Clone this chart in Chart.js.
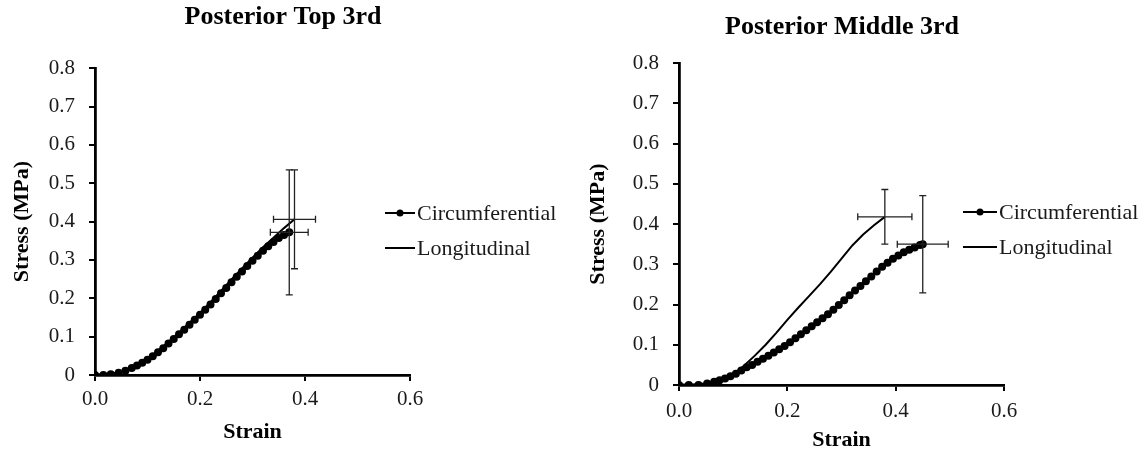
<!DOCTYPE html>
<html>
<head>
<meta charset="utf-8">
<script src="https://cdn.jsdelivr.net/npm/chart.js@4.4.1/dist/chart.umd.min.js"></script>
<style>
  body { margin: 0; background: #fff; width: 1147px; height: 454px; position: relative; overflow: hidden;
         font-family: "Liberation Serif", "Times New Roman", serif; }
  canvas.panel { position: absolute; top: 0; }
  .legend { position: absolute; font-size: 22px; color: #1a1a1a; }
  .legend .item { position: absolute; left: 0; height: 26px; display: flex; align-items: center; white-space: nowrap; }
  .legend .swatch { position: relative; height: 2.5px; background: #000; margin-right: 2px; }
  .legend .dot { position: absolute; left: 50%; top: 50%; width: 7px; height: 7px; border-radius: 50%;
                 background: #000; transform: translate(-50%, -50%); }
</style>
</head>
<body>
<canvas id="topChart" class="panel" style="left:0px" width="566" height="454"></canvas>
<canvas id="middleChart" class="panel" style="left:575px" width="534" height="454"></canvas>
<div id="topLegend" class="legend" style="left:385px; top:200px"></div>
<div id="middleLegend" class="legend" style="left:963px; top:199px"></div>
<script>
// Posterior Top 3rd
const topCircStrain = [0, 0.016, 0.03, 0.045, 0.058, 0.07, 0.08, 0.09, 0.10, 0.11, 0.12, 0.13, 0.14, 0.15, 0.16, 0.17, 0.18, 0.19, 0.20,
  0.21, 0.22, 0.23, 0.24, 0.25, 0.26, 0.27, 0.28, 0.29, 0.30, 0.31, 0.32, 0.33, 0.34, 0.35, 0.36, 0.37];
const topCircStress = [0, 0, 0.002, 0.006, 0.011, 0.018, 0.025, 0.032, 0.040, 0.049, 0.059, 0.070, 0.082, 0.094, 0.106, 0.118, 0.131, 0.144, 0.157,
  0.170, 0.184, 0.198, 0.213, 0.227, 0.242, 0.256, 0.270, 0.284, 0.298, 0.311, 0.324, 0.336, 0.347, 0.357, 0.365, 0.372];
const topLongStrain = [0, 0.02, 0.04, 0.06, 0.08, 0.10, 0.12, 0.14, 0.16, 0.18, 0.20, 0.22, 0.24, 0.26, 0.28, 0.30, 0.32, 0.34, 0.36, 0.38];
const topLongStress = [0, 0.001, 0.004, 0.013, 0.027, 0.043, 0.063, 0.086, 0.110, 0.136, 0.162, 0.190, 0.219, 0.249, 0.278, 0.306, 0.333, 0.358, 0.383, 0.406];
const topStrainErr = [0.036, 0.040];
const topStressErr = [0.163, 0.129];

// Posterior Middle 3rd
const midCircStrain = [0, 0.018, 0.036, 0.052, 0.065, 0.075, 0.085, 0.095, 0.105, 0.115, 0.125, 0.135, 0.145, 0.155, 0.165, 0.175, 0.185, 0.195,
  0.205, 0.215, 0.225, 0.235, 0.245, 0.255, 0.265, 0.275, 0.285, 0.295, 0.305, 0.315, 0.325, 0.335, 0.345, 0.355, 0.365, 0.375,
  0.385, 0.395, 0.405, 0.415, 0.425, 0.435, 0.445, 0.45];
const midCircStress = [0, 0, 0, 0.004, 0.008, 0.012, 0.016, 0.022, 0.028, 0.036, 0.044, 0.050, 0.058, 0.065, 0.073, 0.081, 0.089, 0.097,
  0.106, 0.116, 0.126, 0.136, 0.146, 0.156, 0.166, 0.176, 0.187, 0.199, 0.211, 0.223, 0.235, 0.246, 0.258, 0.270, 0.282, 0.294,
  0.304, 0.314, 0.322, 0.330, 0.336, 0.342, 0.348, 0.350];
const midLongStrain = [0, 0.02, 0.04, 0.06, 0.08, 0.10, 0.12, 0.14, 0.16, 0.18, 0.20, 0.22, 0.24, 0.26, 0.28, 0.30, 0.32, 0.34, 0.36, 0.38];
const midLongStress = [0, 0, 0.002, 0.006, 0.013, 0.027, 0.048, 0.073, 0.100, 0.130, 0.162, 0.192, 0.221, 0.250, 0.281, 0.314, 0.347, 0.374, 0.397, 0.418];
const midStrainErr = [0.047, 0.050];
const midStressErr = [0.121, 0.068];

const seriesNames = ["Circumferential", "Longitudinal"];
const xTicks = [0, 0.2, 0.4, 0.6];
const yMax = 0.8;

const serif = '"Liberation Serif", "Times New Roman", serif';
const textColor = "#1a1a1a";

const toPoints = (xs, ys) => xs.map((x, i) => ({ x: x, y: ys[i] }));

// error bars at the last point of every series
const errorBars = {
  id: "errorBars",
  afterDatasetsDraw(chart, args, opts) {
    const { ctx, scales: { x, y } } = chart;
    const cap = 3.5;
    ctx.save();
    ctx.strokeStyle = "#222";
    ctx.lineWidth = 1.3;
    chart.data.datasets.forEach((ds, i) => {
      const end = ds.data[ds.data.length - 1];
      const px = x.getPixelForValue(end.x), py = y.getPixelForValue(end.y);
      const x0 = x.getPixelForValue(end.x - opts.xErr[i]), x1 = x.getPixelForValue(end.x + opts.xErr[i]);
      const y0 = y.getPixelForValue(end.y - opts.yErr[i]), y1 = y.getPixelForValue(end.y + opts.yErr[i]);
      ctx.beginPath();
      ctx.moveTo(x0, py); ctx.lineTo(x1, py);
      ctx.moveTo(x0, py - cap); ctx.lineTo(x0, py + cap);
      ctx.moveTo(x1, py - cap); ctx.lineTo(x1, py + cap);
      ctx.moveTo(px, y0); ctx.lineTo(px, y1);
      ctx.moveTo(px - cap, y0); ctx.lineTo(px + cap, y0);
      ctx.moveTo(px - cap, y1); ctx.lineTo(px + cap, y1);
      ctx.stroke();
    });
    ctx.restore();
  }
};

function axisStyle() {
  return {
    grid: { display: true, drawOnChartArea: false, drawTicks: true, tickLength: 6, color: "#000", lineWidth: 2 },
    border: { display: true, color: "#000", width: 2.8 }
  };
}

function makeChart(id, cfg) {
  return new Chart(document.getElementById(id), {
    type: "scatter",
    data: {
      datasets: [
        { label: seriesNames[0], data: toPoints(cfg.circ[0], cfg.circ[1]), showLine: true, borderColor: "#000", borderWidth: 3,
          pointRadius: 4, pointBackgroundColor: "#000", pointBorderWidth: 0, pointHoverRadius: 4 },
        { label: seriesNames[1], data: toPoints(cfg.long[0], cfg.long[1]), showLine: true, borderColor: "#000", borderWidth: 2,
          pointRadius: 0, pointHoverRadius: 0 }
      ]
    },
    options: {
      responsive: false,
      animation: false,
      layout: { padding: 0 },
      plugins: {
        legend: { display: false },
        tooltip: { enabled: false },
        title: { display: true, text: cfg.title, color: "#000", font: { family: serif, size: 26, weight: "bold" },
                 padding: cfg.titlePad },
        errorBars: { xErr: cfg.xErr, yErr: cfg.yErr }
      },
      scales: {
        x: Object.assign(axisStyle(), {
          type: "linear", min: 0, max: 0.6,
          afterBuildTicks: s => { s.ticks = xTicks.map(v => ({ value: v })); },
          ticks: { autoSkip: false, maxRotation: 0, color: textColor, padding: cfg.xTickPad, font: { family: serif, size: 21 },
                   callback: v => Number(v).toFixed(1) },
          title: { display: true, text: "Strain", color: "#000", font: { family: serif, size: 22, weight: "bold" },
                   padding: { top: 0, bottom: cfg.xTitlePad } },
          afterFit: s => { s.height = cfg.xHeight; }
        }),
        y: Object.assign(axisStyle(), {
          type: "linear", min: 0, max: yMax,
          ticks: { stepSize: 0.1, autoSkip: false, color: textColor, padding: 14, font: { family: serif, size: 21 },
                   callback: v => (Math.abs(v) < 1e-9 ? "0" : Number(v).toFixed(1)) },
          title: { display: true, text: "Stress (MPa)", color: "#000", font: { family: serif, size: 22, weight: "bold" },
                   padding: { top: cfg.yTitlePad, bottom: 0 } },
          afterFit: s => { s.width = cfg.yWidth; }
        }),
        // empty room on the right, the legend sits there
        gap: { type: "linear", position: "right", display: true, grid: { display: false }, border: { display: false },
               ticks: { display: false }, afterFit: s => { s.width = cfg.gapWidth; } }
      }
    },
    plugins: [errorBars]
  });
}

function buildLegend(chart, el) {
  chart.data.datasets.forEach((ds, i) => {
    const item = document.createElement("div");
    item.className = "item";
    item.style.top = (i * 35) + "px";
    const sw = document.createElement("span");
    sw.className = "swatch";
    sw.style.width = el.dataset.swatch + "px";
    if (ds.pointRadius > 0) {
      const dot = document.createElement("span");
      dot.className = "dot";
      sw.appendChild(dot);
    }
    item.appendChild(sw);
    item.appendChild(document.createTextNode(ds.label));
    el.appendChild(item);
  });
}

const topChart = makeChart("topChart", {
  title: "Posterior Top 3rd",
  circ: [topCircStrain, topCircStress], long: [topLongStrain, topLongStress],
  xErr: topStrainErr, yErr: topStressErr,
  titlePad: { top: 2, bottom: 35 }, yWidth: 95, xHeight: 79, gapWidth: 156,
  yTitlePad: 9, xTickPad: 6, xTitlePad: 8
});

const middleChart = makeChart("middleChart", {
  title: "Posterior Middle 3rd",
  circ: [midCircStrain, midCircStress], long: [midLongStrain, midLongStress],
  xErr: midStrainErr, yErr: midStressErr,
  titlePad: { top: 12, bottom: 20 }, yWidth: 104, xHeight: 69, gapWidth: 105,
  yTitlePad: 10, xTickPad: 8, xTitlePad: 0
});

const topLegend = document.getElementById("topLegend");
topLegend.dataset.swatch = 30;
buildLegend(topChart, topLegend);
const middleLegend = document.getElementById("middleLegend");
middleLegend.dataset.swatch = 34;
buildLegend(middleChart, middleLegend);
</script>
</body>
</html>
